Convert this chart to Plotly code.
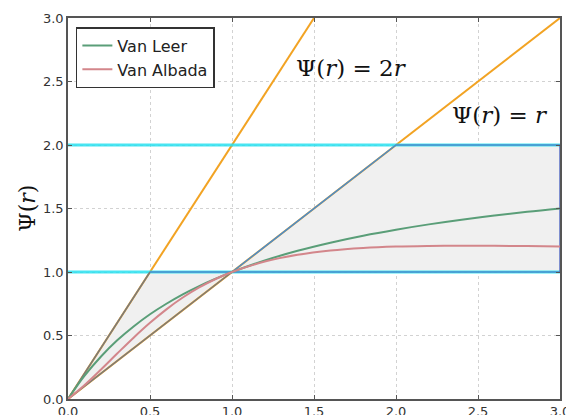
import plotly.graph_objects as go

# ---- data ----
r_vals = [0, 0.1, 0.2, 0.3, 0.4, 0.5, 0.6, 0.7, 0.8, 0.9, 1.0,
          1.2, 1.4, 1.6, 1.8, 2.0, 2.2, 2.4, 2.6, 2.8, 3.0]
van_leer = [0, 0.182, 0.333, 0.462, 0.571, 0.667, 0.750, 0.824, 0.889, 0.947, 1.0,
            1.091, 1.167, 1.231, 1.286, 1.333, 1.375, 1.412, 1.444, 1.474, 1.5]
van_albada = [0, 0.109, 0.231, 0.358, 0.483, 0.600, 0.706, 0.799, 0.878, 0.945, 1.0,
              1.082, 1.135, 1.169, 1.189, 1.200, 1.205, 1.207, 1.206, 1.204, 1.2]

psi_r_x, psi_r_y = [0, 3], [0, 3]
psi_2r_x, psi_2r_y = [0, 1.5], [0, 3]
bound_levels = [1, 2]

upper_x = [0, 0.5, 1, 2, 3]
upper_y = [0, 1, 1, 2, 2]
lower_x = [0, 1, 3]
lower_y = [0, 1, 1]

tick_vals = [0, 0.5, 1.0, 1.5, 2.0, 2.5, 3.0]
tick_text = ["0.0", "0.5", "1.0", "1.5", "2.0", "2.5", "3.0"]

ORANGE = "#f2a323"
CYAN = "rgba(40,225,240,0.85)"
BLUE = "#4a8ccc"
GREY = "#7a7a7a"

fig = go.Figure()

# shaded TVD region
fig.add_trace(go.Scatter(
    x=upper_x + lower_x[::-1], y=upper_y + lower_y[::-1],
    fill="toself", fillcolor="#f0f0f0", mode="lines",
    line=dict(width=0), showlegend=False, hoverinfo="skip"))

# orange reference lines
fig.add_trace(go.Scatter(x=psi_r_x, y=psi_r_y, mode="lines",
                         line=dict(color=ORANGE, width=2), showlegend=False))
fig.add_trace(go.Scatter(x=psi_2r_x, y=psi_2r_y, mode="lines",
                         line=dict(color=ORANGE, width=2), showlegend=False))

# cyan horizontal bounds
for lv in bound_levels:
    fig.add_trace(go.Scatter(x=[0, 3], y=[lv, lv], mode="lines",
                             line=dict(color=CYAN, width=3), showlegend=False))

# region edges
fig.add_trace(go.Scatter(x=upper_x[:2], y=upper_y[:2], mode="lines",
                         line=dict(color=GREY, width=1.5), showlegend=False))
fig.add_trace(go.Scatter(x=lower_x[:2], y=lower_y[:2], mode="lines",
                         line=dict(color=GREY, width=1.5), showlegend=False))
fig.add_trace(go.Scatter(x=upper_x[1:], y=upper_y[1:], mode="lines",
                         line=dict(color=BLUE, width=1.5), showlegend=False))
fig.add_trace(go.Scatter(x=lower_x[1:], y=lower_y[1:], mode="lines",
                         line=dict(color=BLUE, width=1.5), showlegend=False))
fig.add_trace(go.Scatter(x=[upper_x[-1], lower_x[-1]], y=[upper_y[-1], lower_y[-1]],
                         mode="lines", line=dict(color="#5a6fc4", width=1.5),
                         showlegend=False))

# limiter curves
fig.add_trace(go.Scatter(x=r_vals, y=van_leer, mode="lines", name="Van Leer",
                         line=dict(color="#5a9e78", width=2, shape="spline")))
fig.add_trace(go.Scatter(x=r_vals, y=van_albada, mode="lines", name="Van Albada",
                         line=dict(color="#d3868b", width=2, shape="spline")))

axis_common = dict(
    range=[0, 3], tickvals=tick_vals, ticktext=tick_text, automargin=False,
    showline=True, linecolor="#555555", linewidth=1.5, mirror="ticks",
    ticks="inside", ticklen=4, tickcolor="#555555",
    showgrid=True, gridcolor="#d2d2d2", griddash="dot", gridwidth=1,
    zeroline=False, tickfont=dict(family="DejaVu Sans", size=13, color="#333333"),
)

fig.update_layout(
    width=574, height=415,
    margin=dict(l=60, r=22, t=10, b=24),
    plot_bgcolor="white", paper_bgcolor="white",
    xaxis=axis_common, yaxis=axis_common,
    showlegend=True,
    legend=dict(x=0.016, y=0.976, xanchor="left", yanchor="top",
                bgcolor="white", bordercolor="#333333", borderwidth=1.5,
                font=dict(family="DejaVu Sans", size=16, color="#222222"),
                itemwidth=30, tracegroupgap=0),
    annotations=[
        dict(x=1.38, y=2.61, xref="x", yref="y", xanchor="left", yanchor="middle",
             text="Ψ(<i>r</i>) = 2<i>r</i>", showarrow=False,
             font=dict(family="DejaVu Serif", size=23, color="#111111")),
        dict(x=2.33, y=2.24, xref="x", yref="y", xanchor="left", yanchor="middle",
             text="Ψ(<i>r</i>) = <i>r</i>", showarrow=False,
             font=dict(family="DejaVu Serif", size=23, color="#111111")),
        dict(x=-0.083, y=0.5, xref="paper", yref="paper", xanchor="center",
             yanchor="middle", text="Ψ(<i>r</i>)", textangle=-90, showarrow=False,
             font=dict(family="DejaVu Serif", size=22, color="#111111")),
    ],
)

fig.write_html("out.html")
